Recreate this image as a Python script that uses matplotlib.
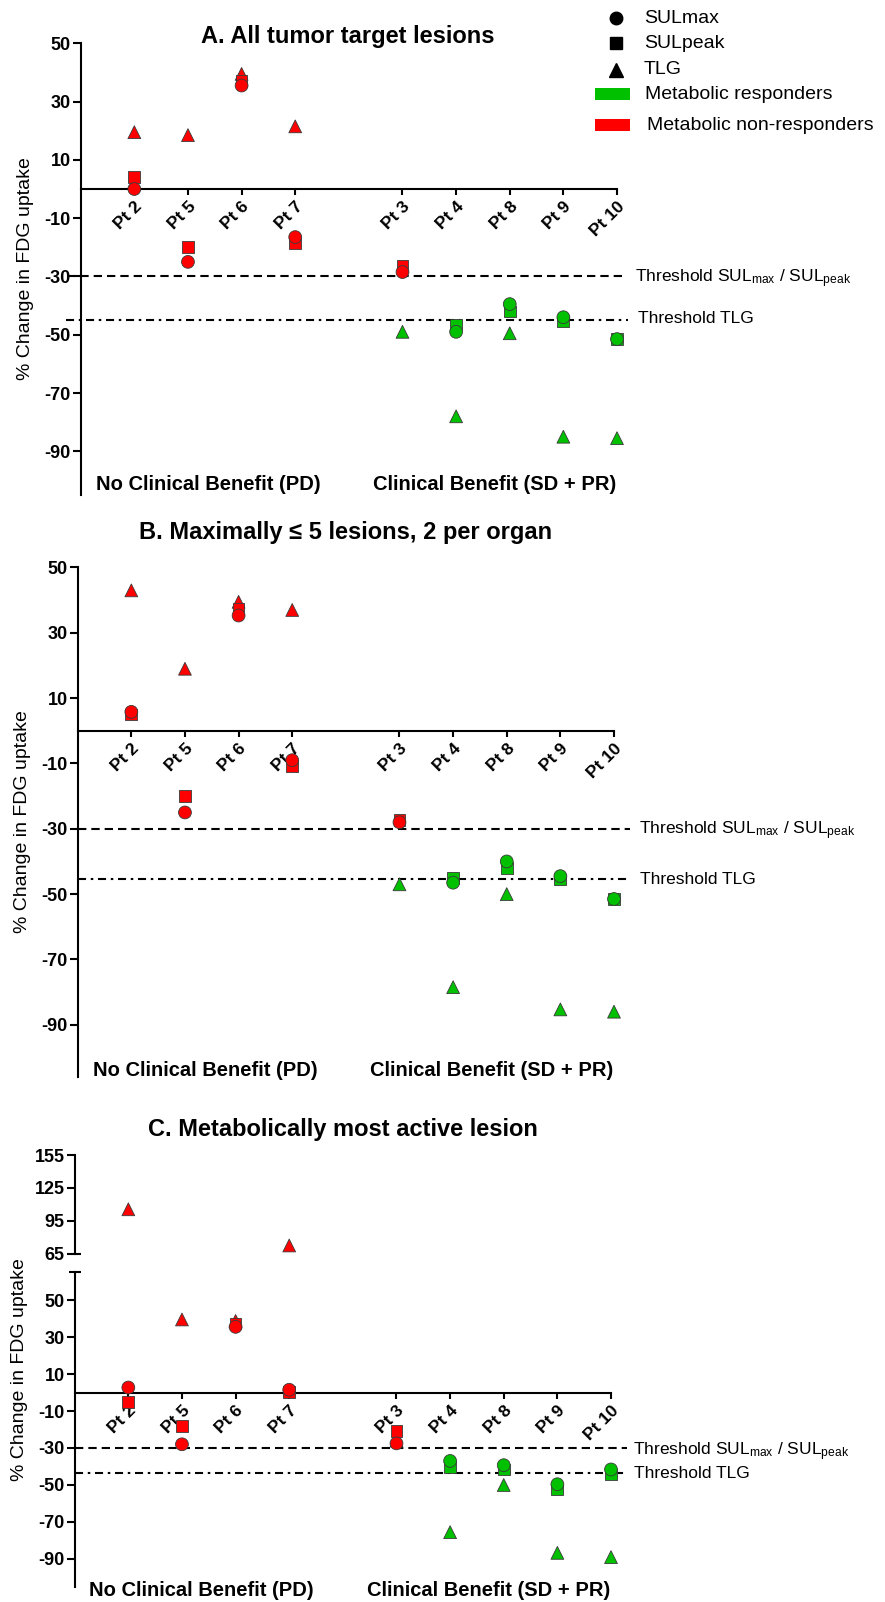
import matplotlib
matplotlib.use('Agg')
import matplotlib.pyplot as plt
from matplotlib.patches import Rectangle

plt.rcParams['font.family'] = ['Liberation Sans', 'DejaVu Sans']
plt.rcParams['mathtext.fontset'] = 'custom'
plt.rcParams['mathtext.rm'] = 'Liberation Sans'
plt.rcParams['mathtext.it'] = 'Liberation Sans:italic'
plt.rcParams['mathtext.bf'] = 'Liberation Sans:bold'
plt.rcParams['lines.scale_dashes'] = False

# ---------------- data ----------------
no_benefit = ['Pt 2', 'Pt 5', 'Pt 6', 'Pt 7']
benefit = ['Pt 3', 'Pt 4', 'Pt 8', 'Pt 9', 'Pt 10']
patients = no_benefit + benefit

# Panel A: all tumor target lesions
a_sulmax = [0, -25, 35.5, -16.5, -28.5, -49, -39.5, -44, -51.5]
a_sulpeak = [4, -20, 37, -18.5, -26.5, -46.5, -42, -45.5, -51.5]
a_tlg = [19.5, 18.5, 39.5, 21.5, -49, -78, -49.5, -85, -85.5]
# Panel B: maximally 5 lesions, 2 per organ
b_sulmax = [5.8, -25, 35.3, -9, -28, -46.5, -40, -44.5, -51.5]
b_sulpeak = [5, -20, 37.3, -10.7, -27.2, -45, -42, -45.5, -51.5]
b_tlg = [43, 19, 39.5, 37, -47, -78.5, -50, -85.3, -86]
# Panel C: metabolically most active lesion
c_sulmax = [2.7, -28, 35.5, 1.5, -27.5, -37, -39.3, -49.6, -41.6]
c_sulpeak = [-5, -18, 37.3, 0.3, -21, -40.2, -41.6, -52.4, -44.3]
c_tlg = [105.5, 39.5, 38.7, 72.5, -26, -75.5, -50, -86.7, -89]

# metabolic responder flags (1 = responder)
a_resp_sul = [0, 0, 0, 0, 0, 1, 1, 1, 1]
a_resp_tlg = [0, 0, 0, 0, 1, 1, 1, 1, 1]
b_resp_sul = [0, 0, 0, 0, 0, 1, 1, 1, 1]
b_resp_tlg = [0, 0, 0, 0, 1, 1, 1, 1, 1]
c_resp_sul = [0, 0, 0, 0, 0, 1, 1, 1, 1]
c_resp_tlg = [0, 0, 0, 0, 0, 1, 1, 1, 1]

thr_sul = -30
a_thr_tlg = -45
b_thr_tlg = -45.5
c_thr_tlg = -43.5

yticks_main = [50, 30, 10, -10, -30, -50, -70, -90]
yticks_upper = [155, 125, 95, 65]

# ---------------- style ----------------
RED = '#FF0000'
GREEN = '#00C000'
EDGE = '#3a3a3a'
W, H = 885, 1602
fig = plt.figure(figsize=(W / 100, H / 100), dpi=100)

xpos = list(range(len(no_benefit))) + [len(no_benefit) + 1 + i for i in range(len(benefit))]


def rect(x0, x1, yt, yb):
    return [x0 / W, 1 - yb / H, (x1 - x0) / W, (yb - yt) / H]


def style_axes(ax, ylim, yticks, xaxis=True):
    ax.set_xlim(-1, 9)
    ax.set_ylim(*ylim)
    ax.patch.set_alpha(0)
    for s in ['top', 'right']:
        ax.spines[s].set_visible(False)
    ax.spines['left'].set_linewidth(1.5)
    ax.set_yticks(yticks)
    ax.set_yticklabels([str(v) for v in yticks], fontsize=13, fontweight='bold')
    ax.tick_params(axis='y', length=5.8, width=1.5, pad=1.5)
    if xaxis:
        ax.spines['bottom'].set_position(('data', 0))
        ax.spines['bottom'].set_linewidth(1.5)
        ax.set_xticks(xpos)
        ax.set_xticklabels(patients, rotation=45, ha='right', va='top',
                           rotation_mode='anchor', fontsize=12.5, fontweight='bold')
        ax.tick_params(axis='x', length=4.3, width=1.5, pad=3)
    else:
        ax.spines['bottom'].set_visible(False)
        ax.set_xticks([])


def draw_points(ax, sulmax, sulpeak, tlg, resp_sul, resp_tlg, keep=lambda v: True):
    for vals, resp, mk, s in [(tlg, resp_tlg, '^', 85), (sulpeak, resp_sul, 's', 72),
                              (sulmax, resp_sul, 'o', 85)]:
        xs = [x for x, v in zip(xpos, vals) if keep(v)]
        ys = [v for v in vals if keep(v)]
        cs = [GREEN if r else RED for r, v in zip(resp, vals) if keep(v)]
        if xs:
            ax.scatter(xs, ys, s=s, c=cs, marker=mk, edgecolors=EDGE, linewidths=0.6,
                       zorder=3, clip_on=False)


def thresholds(ax, y1, y2, x0a, x1a, x0b, x1b):
    ax.plot([x0a, x1a], [y1, y1], color='black', lw=1.5, dashes=(6.0, 3.6),
            clip_on=False, zorder=2)
    ax.plot([x0b, x1b], [y2, y2], color='black', lw=1.5, dashes=(5.8, 3.4, 1.8, 3.4),
            clip_on=False, zorder=2)


# Panel A
axA = fig.add_axes(rect(80.7, 617, 43.3, 495))
style_axes(axA, (-105, 50), yticks_main)
draw_points(axA, a_sulmax, a_sulpeak, a_tlg, a_resp_sul, a_resp_tlg)
thresholds(axA, thr_sul, a_thr_tlg, -1.26, 9.13, -1.28, 9.2)

# Panel B
axB = fig.add_axes(rect(77.7, 614, 567.5, 1077))
style_axes(axB, (-106, 50), yticks_main)
draw_points(axB, b_sulmax, b_sulpeak, b_tlg, b_resp_sul, b_resp_tlg)
thresholds(axB, thr_sul, b_thr_tlg, -1.0, 9.3, -1.0, 9.27)

# Panel C (broken axis)
axCu = fig.add_axes(rect(74.7, 611, 1155, 1253.7))
style_axes(axCu, (65, 155), yticks_upper, xaxis=False)
draw_points(axCu, c_sulmax, c_sulpeak, c_tlg, c_resp_sul, c_resp_tlg, keep=lambda v: v >= 65)
axCl = fig.add_axes(rect(74.7, 611, 1272.3, 1586.7))
style_axes(axCl, (-105, 65), yticks_main)
draw_points(axCl, c_sulmax, c_sulpeak, c_tlg, c_resp_sul, c_resp_tlg, keep=lambda v: v < 65)
thresholds(axCl, thr_sul, c_thr_tlg, -1.0, 9.3, -1.0, 9.3)

# ---------------- overlay (pixel coordinates) ----------------
ov = fig.add_axes([0, 0, 1, 1], zorder=10)
ov.set_xlim(0, W)
ov.set_ylim(H, 0)
ov.axis('off')

# axis break marks
ov.plot([74.7, 81], [1253.7, 1253.7], color='black', lw=1.5, solid_capstyle='butt')
ov.plot([69, 81], [1272.3, 1272.3], color='black', lw=1.5, solid_capstyle='butt')

# titles
ov.text(348, 36, 'A. All tumor target lesions', fontsize=17, fontweight='bold',
        ha='center', va='center')
ov.text(346, 532.5, 'B. Maximally \u2264 5 lesions, 2 per organ', fontsize=17,
        fontweight='bold', ha='center', va='center')
ov.text(342.5, 1129.3, 'C. Metabolically most active lesion', fontsize=17,
        fontweight='bold', ha='center', va='center')

# y labels
ylab = '% Change in FDG uptake'
ov.text(26, 269, ylab, fontsize=14, rotation=90, ha='center', va='center')
ov.text(23, 822, ylab, fontsize=14, rotation=90, ha='center', va='center')
ov.text(20, 1370, ylab, fontsize=14, rotation=90, ha='center', va='center')

# group labels
for (xl, xr, y) in [(95.7, 373, 484), (92.7, 370, 1071), (89.3, 366.7, 1590)]:
    ov.text(xl, y, 'No Clinical Benefit (PD)', fontsize=14.5, fontweight='bold',
            ha='left', va='center')
    ov.text(xr, y, 'Clinical Benefit (SD + PR)', fontsize=14.5, fontweight='bold',
            ha='left', va='center')

# threshold labels
sul_lab = r'Threshold SUL$_{\mathrm{max}}$ / SUL$_{\mathrm{peak}}$'
for (xs, ys, xt, yt) in [(635, 276, 638, 317), (639, 828, 640, 878), (633.3, 1449, 634.3, 1471.7)]:
    ov.text(xs, ys + 6, sul_lab, fontsize=12.5, ha='left', va='baseline')
    ov.text(xt, yt + 6, 'Threshold TLG', fontsize=12.5, ha='left', va='baseline')

# legend
ov.plot([615.7], [18.3], marker='o', ms=9, color='black', ls='none')
ov.plot([615.7], [43.3], marker='s', ms=8, color='black', ls='none')
ov.plot([615.7], [70], marker='^', ms=9.5, color='black', ls='none')
ov.add_patch(Rectangle((594.5, 88), 35, 12, color=GREEN, lw=0))
ov.add_patch(Rectangle((594.5, 119), 35, 12, color=RED, lw=0))
for (x, y, t) in [(644, 18.3, 'SULmax'), (644, 43.3, 'SULpeak'), (644, 70, 'TLG'),
                  (645, 94.5, 'Metabolic responders'), (647, 125, 'Metabolic non-responders')]:
    ov.text(x, y, t, fontsize=14, ha='left', va='center')

fig.savefig('out.png', dpi=100)
